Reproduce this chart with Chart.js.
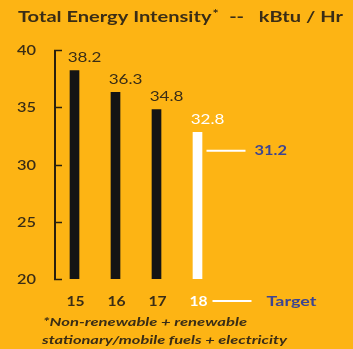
<!DOCTYPE html>
<html><head><meta charset="utf-8">
<script src="https://cdn.jsdelivr.net/npm/chart.js@4/dist/chart.umd.min.js"></script>
<style>html,body{margin:0;padding:0;background:#FDB414;}#c{display:block;}</style>
</head><body>
<canvas id="c" width="353" height="349"></canvas>
<script>
const categories = ['15', '16', '17', '18'];
const values = [38.2, 36.3, 34.8, 32.8];
const targetValue = 31.2;
const yTicks = [20, 25, 30, 35, 40];
const titleText = 'Total Energy Intensity';
const titleRest = '--   kBtu / Hr';
const footLines = ['*Non-renewable + renewable', 'stationary/mobile fuels + electricity'];
const targetLabel = 'Target';

const DARK = '#3a2d16';
const BLUE = '#3d4592';
const FONT = 'Lato, "Open Sans", sans-serif';

// draw text stretched horizontally (reference glyphs are wide)
function sText(ctx, text, x, y, font, color, align, sx) {
  ctx.save();
  ctx.font = font; ctx.fillStyle = color;
  ctx.textBaseline = 'middle'; ctx.textAlign = align;
  ctx.translate(x, y); ctx.scale(sx, 1);
  ctx.fillText(text, 0, 0);
  ctx.restore();
}
function fitText(ctx, text, x, y, font, color, width) {
  ctx.save(); ctx.font = font;
  const w = ctx.measureText(text).width;
  ctx.restore();
  sText(ctx, text, x, y, font, color, 'left', width / w);
  return width / w;
}

const deco = {
  id: 'deco',
  afterDraw(chart) {
    const ctx = chart.ctx, y = chart.scales.y, x = chart.scales.x;
    const ca = chart.chartArea;
    ctx.save();
    // axis line and inward ticks
    ctx.strokeStyle = '#2a200e'; ctx.lineWidth = 2;
    ctx.beginPath();
    ctx.moveTo(ca.left + 1, y.getPixelForValue(40));
    ctx.lineTo(ca.left + 1, y.getPixelForValue(20));
    ctx.stroke();
    yTicks.forEach(v => {
      const py = Math.round(y.getPixelForValue(v)) + 0.5;
      ctx.lineWidth = 1.5;
      ctx.beginPath(); ctx.moveTo(ca.left, py); ctx.lineTo(ca.left + 8, py); ctx.stroke();
      sText(ctx, String(v), 36, py, '600 14px ' + FONT, DARK, 'right', 1.17);
    });
    // value labels
    values.forEach((v, i) => {
      sText(ctx, v.toFixed(1), x.getPixelForValue(i) + 10, y.getPixelForValue(v) - 13,
        '14px ' + FONT, i === 3 ? '#ffffff' : DARK, 'center', 1.22);
    });
    // x category labels
    categories.forEach((c, i) => {
      sText(ctx, c, x.getPixelForValue(i) + 1, 301, 'bold 14px ' + FONT,
        i === 3 ? '#ffffff' : DARK, 'center', 1.12);
    });
    // target line
    const ty = y.getPixelForValue(targetValue);
    const bx = x.getPixelForValue(3);
    ctx.strokeStyle = '#ffffff'; ctx.lineWidth = 2;
    ctx.beginPath(); ctx.moveTo(bx + 9, ty); ctx.lineTo(bx + 48, ty); ctx.stroke();
    sText(ctx, targetValue.toFixed(1), bx + 57, ty, 'bold 14px ' + FONT, BLUE, 'left', 1.17);
    // x-axis target legend
    const ly = 301;
    ctx.beginPath(); ctx.moveTo(bx + 15, ly); ctx.lineTo(bx + 54, ly); ctx.stroke();
    fitText(ctx, targetLabel, bx + 69, ly, 'bold 14px ' + FONT, BLUE, 50);
    // title
    ctx.font = 'bold 15px ' + FONT;
    const w1 = ctx.measureText(titleText).width;
    const w3 = ctx.measureText(titleRest).width;
    ctx.font = 'bold 10px ' + FONT;
    const w2 = ctx.measureText('*').width;
    const s = (343 - 18 - 12) / (w1 + w2 + w3);
    let tx = 18;
    sText(ctx, titleText, tx, 17, 'bold 15px ' + FONT, DARK, 'left', s);
    tx += w1 * s + 1;
    sText(ctx, '*', tx, 14, 'bold 11px ' + FONT, DARK, 'left', s);
    tx += w2 * s + 11;
    sText(ctx, titleRest, tx, 17, 'bold 15px ' + FONT, DARK, 'left', s);
    // footnote
    fitText(ctx, footLines[0], 43, 322, 'italic bold 11px ' + FONT, DARK, 204);
    fitText(ctx, footLines[1], 42, 340, 'italic bold 11px ' + FONT, DARK, 245);
    ctx.restore();
  }
};

new Chart(document.getElementById('c'), {
  type: 'bar',
  data: {
    labels: categories,
    datasets: [{
      data: values,
      backgroundColor: ['#141414', '#141414', '#141414', '#ffffff'],
      barThickness: 9,
      borderWidth: 0
    }]
  },
  options: {
    responsive: false,
    animation: false,
    events: [],
    layout: { padding: { left: 0, right: 135, top: 50, bottom: 0 } },
    plugins: { legend: { display: false }, tooltip: { enabled: false }, title: { display: false } },
    scales: {
      x: {
        offset: true,
        grid: { display: false, drawTicks: false, tickLength: 0 },
        border: { display: false },
        ticks: { display: false },
        afterFit(s) { s.height = 70; }
      },
      y: {
        min: 20, max: 40,
        afterBuildTicks(s) { s.ticks = yTicks.map(v => ({ value: v })); },
        grid: { display: false, drawTicks: false, tickLength: 0 },
        border: { display: false },
        ticks: { display: false },
        afterFit(s) { s.width = 54; }
      }
    }
  },
  plugins: [deco]
});
</script>
</body></html>
